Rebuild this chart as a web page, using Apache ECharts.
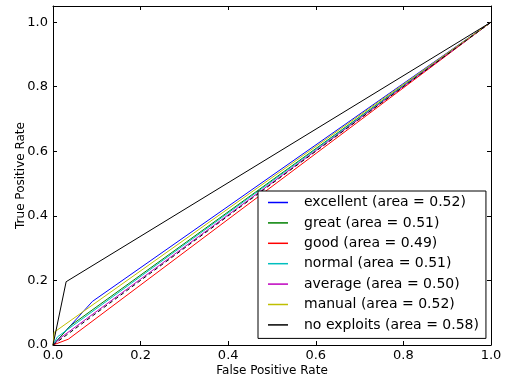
<!DOCTYPE html>
<html>
<head>
<meta charset="utf-8">
<script src="https://cdn.jsdelivr.net/npm/echarts@6/dist/echarts.min.js"></script>
<style>
  html, body { margin: 0; padding: 0; background: #fff; }
  #chart { width: 510px; height: 382px; }
</style>
</head>
<body>
<div id="chart"></div>
<script>
// legend names, one per classifier
var names = [
  'excellent (area = 0.52)',
  'great (area = 0.51)',
  'good (area = 0.49)',
  'normal (area = 0.51)',
  'average (area = 0.50)',
  'manual (area = 0.52)',
  'no exploits (area = 0.58)'
];
var colors = ['#0000ff', '#008000', '#ff0000', '#00bfbf', '#bf00bf', '#bfbf00', '#000000'];

// ROC points (false positive rate, true positive rate)
var excellentFpr = [0, 0.09, 1];
var excellentTpr = [0, 0.135, 1];
var greatFpr = [0, 0.04, 1];
var greatTpr = [0, 0.06, 1];
var goodFpr = [0, 0.035, 1];
var goodTpr = [0, 0.018, 1];
var normalFpr = [0, 0.01, 1];
var normalTpr = [0, 0.025, 1];
var averageFpr = [0, 0.02, 1];
var averageTpr = [0, 0.025, 1];
var manualFpr = [0, 0.003, 1];
var manualTpr = [0, 0.04, 1];
var noExploitsFpr = [0, 0.03, 1];
var noExploitsTpr = [0, 0.196, 1];
// chance line
var chanceFpr = [0, 1];
var chanceTpr = [0, 1];

var yTicks = [0, 0.2, 0.4, 0.6, 0.8, 1.0];

var curves = [
  [excellentFpr, excellentTpr],
  [greatFpr, greatTpr],
  [goodFpr, goodTpr],
  [normalFpr, normalTpr],
  [averageFpr, averageTpr],
  [manualFpr, manualTpr],
  [noExploitsFpr, noExploitsTpr]
];

function pairs(xs, ys) {
  return xs.map(function (x, i) { return [x, ys[i]]; });
}

var series = curves.map(function (c, i) {
  return {
    name: names[i],
    type: 'line',
    data: pairs(c[0], c[1]),
    symbol: 'none',
    color: colors[i],
    lineStyle: { width: 1, color: colors[i] }
  };
});
series.push({
  name: 'chance',
  type: 'line',
  data: pairs(chanceFpr, chanceTpr),
  symbol: 'none',
  color: '#000',
  lineStyle: { width: 1, color: '#000', type: [4, 3] }
});

var font = 'DejaVu Sans';
var tickStyle = { show: true, inside: true, length: 4, lineStyle: { color: '#000', width: 1 } };
var lineStyle = { show: true, onZero: false, lineStyle: { color: '#000', width: 1 } };

var chart = echarts.init(document.getElementById('chart'), null, { renderer: 'canvas' });
chart.setOption({
  animation: false,
  backgroundColor: '#fff',
  textStyle: { fontFamily: font },
  grid: { left: 53, right: 19, top: 6, bottom: 37 },
  legend: {
    data: names,
    orient: 'vertical',
    left: 258,
    top: 191,
    backgroundColor: '#fff',
    borderColor: '#000',
    borderWidth: 1,
    borderRadius: 0,
    padding: [4, 7, 6, 10],
    itemGap: 5.4,
    itemWidth: 20,
    itemHeight: 1.5,
    icon: 'rect',
    textStyle: { fontFamily: font, fontSize: 14, color: '#000', lineHeight: 15, padding: [0, 0, 0, 11] }
  },
  xAxis: [{
    type: 'value', min: 0, max: 1, interval: 0.2, position: 'bottom',
    name: 'False Positive Rate', nameLocation: 'middle', nameGap: 20, nameMoveOverlap: false,
    nameTextStyle: { fontFamily: font, fontSize: 12, color: '#000' },
    axisLine: lineStyle, axisTick: tickStyle,
    axisLabel: { fontFamily: font, fontSize: 13, color: '#000', margin: 4,
      formatter: function (v) { return v.toFixed(1); } },
    splitLine: { show: false }
  }, {
    type: 'value', min: 0, max: 1, interval: 0.2, position: 'top',
    axisLine: lineStyle, axisTick: tickStyle,
    axisLabel: { show: false }, splitLine: { show: false }
  }],
  yAxis: [{
    type: 'value', min: 0, max: 1.05, position: 'left',
    name: 'True Positive Rate', nameLocation: 'middle', nameGap: 26, nameMoveOverlap: false,
    nameTextStyle: { fontFamily: font, fontSize: 12, color: '#000' },
    axisLine: lineStyle,
    axisTick: Object.assign({ customValues: yTicks }, tickStyle),
    axisLabel: { fontFamily: font, fontSize: 13, color: '#000', margin: 5, customValues: yTicks,
      formatter: function (v) { return v.toFixed(1); } },
    splitLine: { show: false }
  }, {
    type: 'value', min: 0, max: 1.05, position: 'right',
    axisLine: lineStyle,
    axisTick: Object.assign({ customValues: yTicks }, tickStyle),
    axisLabel: { show: false }, splitLine: { show: false }
  }],
  series: series
});
</script>
</body>
</html>
